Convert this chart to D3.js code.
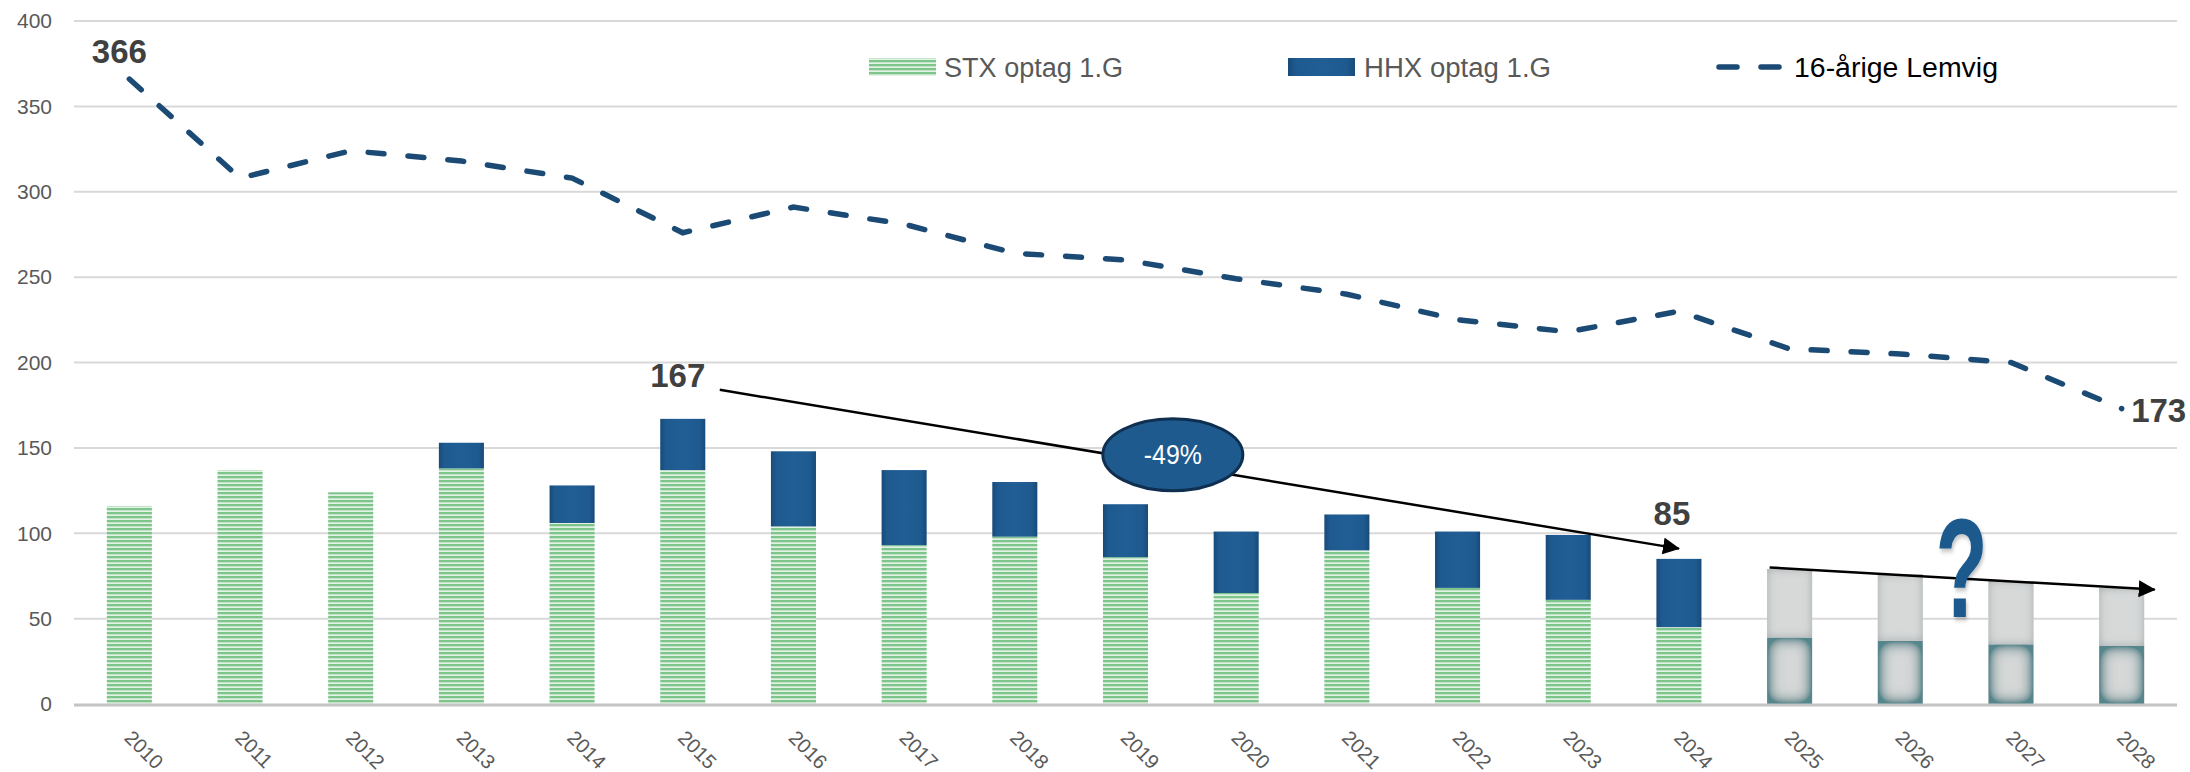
<!DOCTYPE html>
<html><head><meta charset="utf-8">
<script src="https://cdn.jsdelivr.net/npm/d3@7"></script>
<style>html,body{margin:0;padding:0;background:#fff;} svg{display:block;}</style>
</head><body>
<svg id="chart" width="2190" height="772"></svg>
<script>
// ---------- data ----------
const years = ["2010","2011","2012","2013","2014","2015","2016","2017","2018","2019","2020","2021","2022","2023","2024","2025","2026","2027","2028"];
const stxValues = [116,137,124,138,106,137,104,93,98,86,65,90,68,61,45,null,null,null,null];
const hhxValues = [0,0,0,15,22,30,44,44,32,31,36,21,33,38,40,null,null,null,null];
const projLower = [null,null,null,null,null,null,null,null,null,null,null,null,null,null,null,39,37,35,34];
const projUpper = [null,null,null,null,null,null,null,null,null,null,null,null,null,null,null,40,39,37,34];
const youth16 = [366,308,324,318,308,276,291,281,264,260,249,240,225,218,230,208,205,200,173];
const yTicks = [0,50,100,150,200,250,300,350,400];
const seriesNames = ["STX optag 1.G","HHX optag 1.G","16-årige Lemvig"];
const changeLabel = "-49%";

// ---------- setup ----------
const svg = d3.select("#chart");
const plot = {left:74, right:2177, top:21, bottom:704};
const sans = "'Liberation Sans','Open Sans',sans-serif";

const x = d3.scaleBand().domain(years).range([plot.left, plot.right]).paddingInner(0.593).paddingOuter(0.2965);
const y = d3.scaleLinear().domain([0,400]).range([plot.bottom, plot.top]);
const cx = d => x(d) + x.bandwidth()/2;

const defs = svg.append("defs");
// stripes for STX
const pat = defs.append("pattern").attr("id","stripes").attr("patternUnits","userSpaceOnUse")
  .attr("width",8).attr("height",4);
pat.append("rect").attr("width",8).attr("height",4).attr("fill","#e2f2e4");
pat.append("rect").attr("width",8).attr("height",2.3).attr("fill","#7ec58b");
// HHX gradient
const hg = defs.append("linearGradient").attr("id","hhxGrad").attr("x1","0").attr("x2","1").attr("y1","0").attr("y2","0");
[["0%","#184a78"],["12%","#1e5a8f"],["50%","#205e95"],["88%","#1e5a8f"],["100%","#184a78"]].forEach(s=>hg.append("stop").attr("offset",s[0]).attr("stop-color",s[1]));
// inner-glow filters for projection bars
function innerGlow(id, color, sd, slope){
  const fl = defs.append("filter").attr("id",id).attr("x","-40%").attr("y","-40%").attr("width","180%").attr("height","180%");
  fl.append("feFlood").attr("flood-color",color).attr("flood-opacity",1).attr("result","c");
  fl.append("feComposite").attr("in","c").attr("in2","SourceAlpha").attr("operator","out").attr("result","outside");
  fl.append("feGaussianBlur").attr("in","outside").attr("stdDeviation",sd).attr("result","blur");
  const ct = fl.append("feComponentTransfer").attr("in","blur").attr("result","boost");
  ct.append("feFuncA").attr("type","linear").attr("slope",slope).attr("intercept",0);
  fl.append("feComposite").attr("in","boost").attr("in2","SourceAlpha").attr("operator","in").attr("result","inner");
  const m = fl.append("feMerge");
  m.append("feMergeNode").attr("in","SourceGraphic");
  m.append("feMergeNode").attr("in","inner");
}
innerGlow("glowLow","#55868c",8,2.1);
innerGlow("glowUp","#a6acac",5,1.1);
// arrow marker
defs.append("marker").attr("id","arrow").attr("markerUnits","userSpaceOnUse")
  .attr("viewBox","0 0 16 16").attr("refX",15).attr("refY",8).attr("markerWidth",17).attr("markerHeight",17)
  .attr("orient","auto").append("path").attr("d","M0,0 L16,8 L0,16 Z").attr("fill","#000");
// shadow
const f = defs.append("filter").attr("id","shadow").attr("x","-30%").attr("y","-30%").attr("width","160%").attr("height","160%");
f.append("feDropShadow").attr("dx",2).attr("dy",3).attr("stdDeviation",2.5).attr("flood-color","#000").attr("flood-opacity",0.25);

// ---------- grid ----------
svg.append("g").selectAll("line").data(yTicks.filter(t=>t>0)).join("line")
  .attr("x1",plot.left).attr("x2",plot.right).attr("y1",d=>y(d)).attr("y2",d=>y(d))
  .attr("stroke","#d9d9d9").attr("stroke-width",2);

// y labels
svg.append("g").selectAll("text").data(yTicks).join("text")
  .attr("x",52).attr("y",d=>y(d)).attr("dy","0.35em").attr("text-anchor","end")
  .attr("font-family",sans).attr("font-size",21).attr("fill","#595959").text(d=>d);

// ---------- bars ----------
const rows = years.map((yr,i)=>({year:yr, stx:stxValues[i], hhx:hhxValues[i], low:projLower[i], up:projUpper[i]}));
const actual = rows.filter(r=>r.stx!==null);
const proj = rows.filter(r=>r.low!==null);
const stackA = d3.stack().keys(["stx","hhx"])(actual);
const stackP = d3.stack().keys(["low","up"])(proj);
const fills = {stx:"url(#stripes)", hhx:"url(#hhxGrad)", low:"#d6d8d8", up:"#d7d9d9"};
const filters = {stx:null, hhx:null, low:"url(#glowLow)", up:"url(#glowUp)"};

[stackA, stackP].forEach(st=>{
  svg.append("g").selectAll("g").data(st).join("g").attr("fill",s=>fills[s.key])
    .selectAll("rect").data(s=>s.filter(d=>d[1]-d[0]>0).map(d=>Object.assign(d,{key:s.key}))).join("rect")
    .attr("x",d=>x(d.data.year)).attr("width",x.bandwidth())
    .attr("y",d=>y(d[1])).attr("height",d=>y(d[0])-y(d[1]))
    .attr("filter",d=>filters[d.key]);
});

// x axis line
svg.append("line").attr("x1",plot.left).attr("x2",plot.right).attr("y1",y(0)+1).attr("y2",y(0)+1)
  .attr("stroke","#c4c4c4").attr("stroke-width",3);

// x labels
svg.append("g").selectAll("text").data(years).join("text")
  .attr("transform",d=>`translate(${cx(d)-6},${y(0)+35}) rotate(45)`)
  .attr("font-family",sans).attr("font-size",20).attr("fill","#595959").text(d=>d);

// ---------- line ----------
const line = d3.line().x((d,i)=>cx(years[i])).y(d=>y(d));
svg.append("path").datum(youth16).attr("d",line).attr("fill","none")
  .attr("stroke","#1b4a74").attr("stroke-width",5.5).attr("stroke-linecap","round")
  .attr("stroke-dasharray","16,24");

// ---------- annotations ----------
const lbl = (txt, px, py) => svg.append("text").attr("x",px).attr("y",py).attr("text-anchor","middle")
  .attr("font-family",sans).attr("font-weight","bold").attr("font-size",33).attr("fill","#404040").text(txt);
lbl(youth16[0], cx(years[0])-10, y(youth16[0])-16);
lbl(youth16[18], cx(years[18])+37, y(youth16[18])+13);
const i15 = years.indexOf("2015"), i24 = years.indexOf("2024");
lbl(stxValues[i15]+hhxValues[i15], cx("2015")-5, y(stxValues[i15]+hhxValues[i15])-32);
lbl(stxValues[i24]+hhxValues[i24], cx("2024")-7, y(stxValues[i24]+hhxValues[i24])-34);

// trend arrows
svg.append("line").attr("x1",cx("2015")+37).attr("y1",y(184)).attr("x2",cx("2024")).attr("y2",y(91))
  .attr("stroke","#000").attr("stroke-width",2.5).attr("marker-end","url(#arrow)");
svg.append("line").attr("x1",cx("2025")-20).attr("y1",y(80)).attr("x2",cx("2028")+33).attr("y2",y(67))
  .attr("stroke","#000").attr("stroke-width",2.5).attr("marker-end","url(#arrow)");

// ellipse -49%
const ex = (cx("2019")+cx("2020"))/2 - 8, ey = y(146);
svg.append("ellipse").attr("cx",ex).attr("cy",ey).attr("rx",70).attr("ry",36)
  .attr("fill","#1f5a8e").attr("stroke","#0f2f50").attr("stroke-width",3);
svg.append("text").attr("x",ex).attr("y",ey).attr("dy","0.36em").attr("text-anchor","middle")
  .attr("font-family",sans).attr("font-size",27).attr("textLength",58).attr("lengthAdjust","spacingAndGlyphs")
  .attr("fill","#fff").text(changeLabel);

// question mark
svg.append("text").attr("transform",`translate(${(cx("2026")+cx("2027"))/2+6},${y(51)}) scale(0.62,1.02)`)
  .attr("text-anchor","middle").attr("font-family",sans).attr("font-weight","bold").attr("font-size",138)
  .attr("fill","#1f5a8e").attr("filter","url(#shadow)").text("?");

// ---------- legend ----------
const lg = svg.append("g").attr("font-family",sans).attr("font-size",27);
lg.append("rect").attr("x",869).attr("y",58).attr("width",67).attr("height",18).attr("fill","url(#stripes)");
lg.append("text").attr("x",944).attr("y",77).attr("fill","#595959")
  .attr("textLength",179).attr("lengthAdjust","spacingAndGlyphs").text(seriesNames[0]);
lg.append("rect").attr("x",1288).attr("y",58).attr("width",67).attr("height",18).attr("fill","url(#hhxGrad)");
lg.append("text").attr("x",1364).attr("y",77).attr("fill","#595959")
  .attr("textLength",187).attr("lengthAdjust","spacingAndGlyphs").text(seriesNames[1]);
lg.append("line").attr("x1",1719).attr("x2",1779).attr("y1",67).attr("y2",67)
  .attr("stroke","#1b4a74").attr("stroke-width",5.5).attr("stroke-linecap","round").attr("stroke-dasharray","18,24");
lg.append("text").attr("x",1794).attr("y",77).attr("fill","#000")
  .attr("textLength",204).attr("lengthAdjust","spacingAndGlyphs").text(seriesNames[2]);
</script>
</body></html>
